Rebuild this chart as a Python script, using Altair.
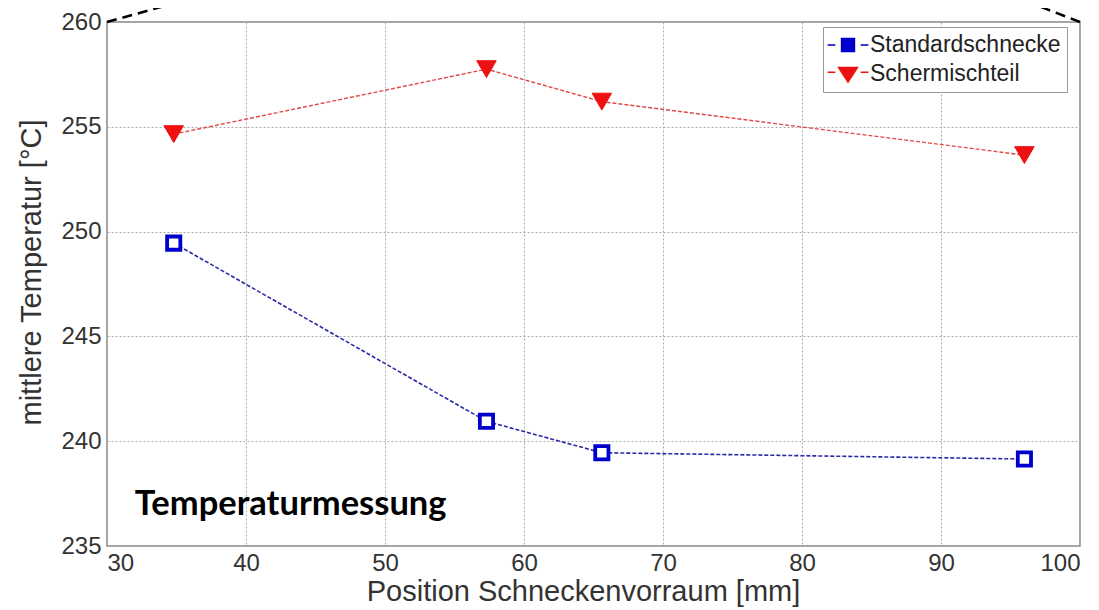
import altair as alt
import pandas as pd

positions = [34.8, 57.3, 65.6, 96.0]
standard = [249.45, 240.95, 239.45, 239.15]
scher = [254.65, 257.75, 256.2, 253.65]
series_names = ["Standardschnecke", "Schermischteil"]
colors = ["#0000cc", "#ee1111"]
line_colors = ["#2a2aa8", "#e04848"]
x_ticks = [30, 40, 50, 60, 70, 80, 90, 100]
y_ticks = [235, 240, 245, 250, 255, 260]
label_text = ["Temperaturmessung"]
label_pos = [32.0, 236.95]
callout_x = [30, 35.97, 100, 95.7]
callout_y = [260, 261.1, 260, 261.1]

rows = []
for p, a, b in zip(positions, standard, scher):
    rows.append({"x": p, "y": a, "s": series_names[0]})
    rows.append({"x": p, "y": b, "s": series_names[1]})
df = pd.DataFrame(rows)

xs = alt.Scale(domain=[30, 100], nice=False, zero=False)
ys = alt.Scale(domain=[235, 260], nice=False, zero=False)
X = alt.X("x:Q", scale=xs, axis=alt.Axis(values=x_ticks, title="Position Schneckenvorraum [mm]", titleX=476))
Y = alt.Y("y:Q", scale=ys, axis=alt.Axis(values=y_ticks, title="mittlere Temperatur [°C]", titleY=250))

base = alt.Chart(df)

line_std = base.transform_filter(alt.datum.s == series_names[0]).mark_line(
    color=line_colors[0], strokeDash=[4, 2], strokeWidth=1.6).encode(x=X, y=Y)
line_sch = base.transform_filter(alt.datum.s == series_names[1]).mark_line(
    color=line_colors[1], strokeDash=[4, 2], strokeWidth=1.4).encode(x=X, y=Y)

pt_std = base.transform_filter(alt.datum.s == series_names[0]).mark_point(
    shape="square", fill="white", stroke=colors[0], strokeWidth=3.8, size=175, opacity=1, fillOpacity=1).encode(x=X, y=Y)
pt_sch = base.transform_filter(alt.datum.s == series_names[1]).mark_point(
    shape="triangle-down", fill=colors[1], stroke=colors[1], strokeWidth=1, size=380, opacity=1, fillOpacity=1).encode(x=X, y=Y)

legend_paths = [
    "M-1.7,-0.06H-1.05V0.06H-1.7ZM1.05,-0.06H1.7V0.06H1.05ZM-0.6,-0.6H0.6V0.6H-0.6Z",
    "M-1.7,-0.21H-1.05V-0.09H-1.7ZM1.05,-0.21H1.7V-0.09H1.05ZM-0.9,-0.6H0.9L0,0.8Z",
]
leg = base.transform_filter("false").mark_point(filled=True, opacity=1).encode(
    x=X, y=Y,
    color=alt.Color("s:N", scale=alt.Scale(domain=series_names, range=colors), title=None,
                    legend=alt.Legend(orient="none", legendX=716, legendY=5, fillColor="white",
                                      strokeColor="#999999", padding=6, labelFontSize=23,
                                      labelFont="Liberation Sans", labelColor="#222222", labelLimit=0,
                                      symbolOpacity=1, symbolSize=576, symbolStrokeWidth=0,
                                      symbolOffset=7, rowPadding=5, labelOffset=10)),
    shape=alt.Shape("s:N", scale=alt.Scale(domain=series_names, range=legend_paths), title=None),
)

lab_df = pd.DataFrame({"x": [label_pos[0]], "y": [label_pos[1]], "t": label_text})
lab = alt.Chart(lab_df).mark_text(align="left", baseline="middle", font="Lato",
                                   fontWeight="bold", fontSize=34.5, color="black").encode(
    x=alt.X("x:Q", scale=xs), y=alt.Y("y:Q", scale=ys), text="t:N")

c_df = pd.DataFrame({"x": [callout_x[0], callout_x[2]], "x2": [callout_x[1], callout_x[3]],
                     "y": [callout_y[0], callout_y[2]], "y2": [callout_y[1], callout_y[3]]})
callout = alt.Chart(c_df).mark_rule(color="black", strokeDash=[10, 6], strokeWidth=2.5, clip=False).encode(
    x=alt.X("x:Q", scale=xs), x2="x2:Q", y=alt.Y("y:Q", scale=ys), y2="y2:Q")

chart = alt.layer(line_std, line_sch, pt_std, pt_sch, leg, lab, callout).properties(
    width=973, height=524,
    autosize=alt.AutoSizeParams(type="none"),
    padding={"left": 99, "top": 14, "right": 11, "bottom": 62},
).configure_view(stroke="#888888", strokeWidth=1.5).configure_axis(
    grid=True, gridColor="#aaaaaa", gridDash=[2, 2], gridWidth=1,
    domain=False, ticks=False,
    labelFont="Liberation Sans", labelFontSize=24, labelColor="#333333", labelPadding=6,
    titleFont="Liberation Sans", titleFontSize=29, titleFontWeight="normal", titleColor="#333333",
).configure_axisY(titlePadding=14).configure_axisX(titlePadding=2, labelPadding=5)

chart.save("out.html", embed_options={"renderer": "svg", "actions": False})
